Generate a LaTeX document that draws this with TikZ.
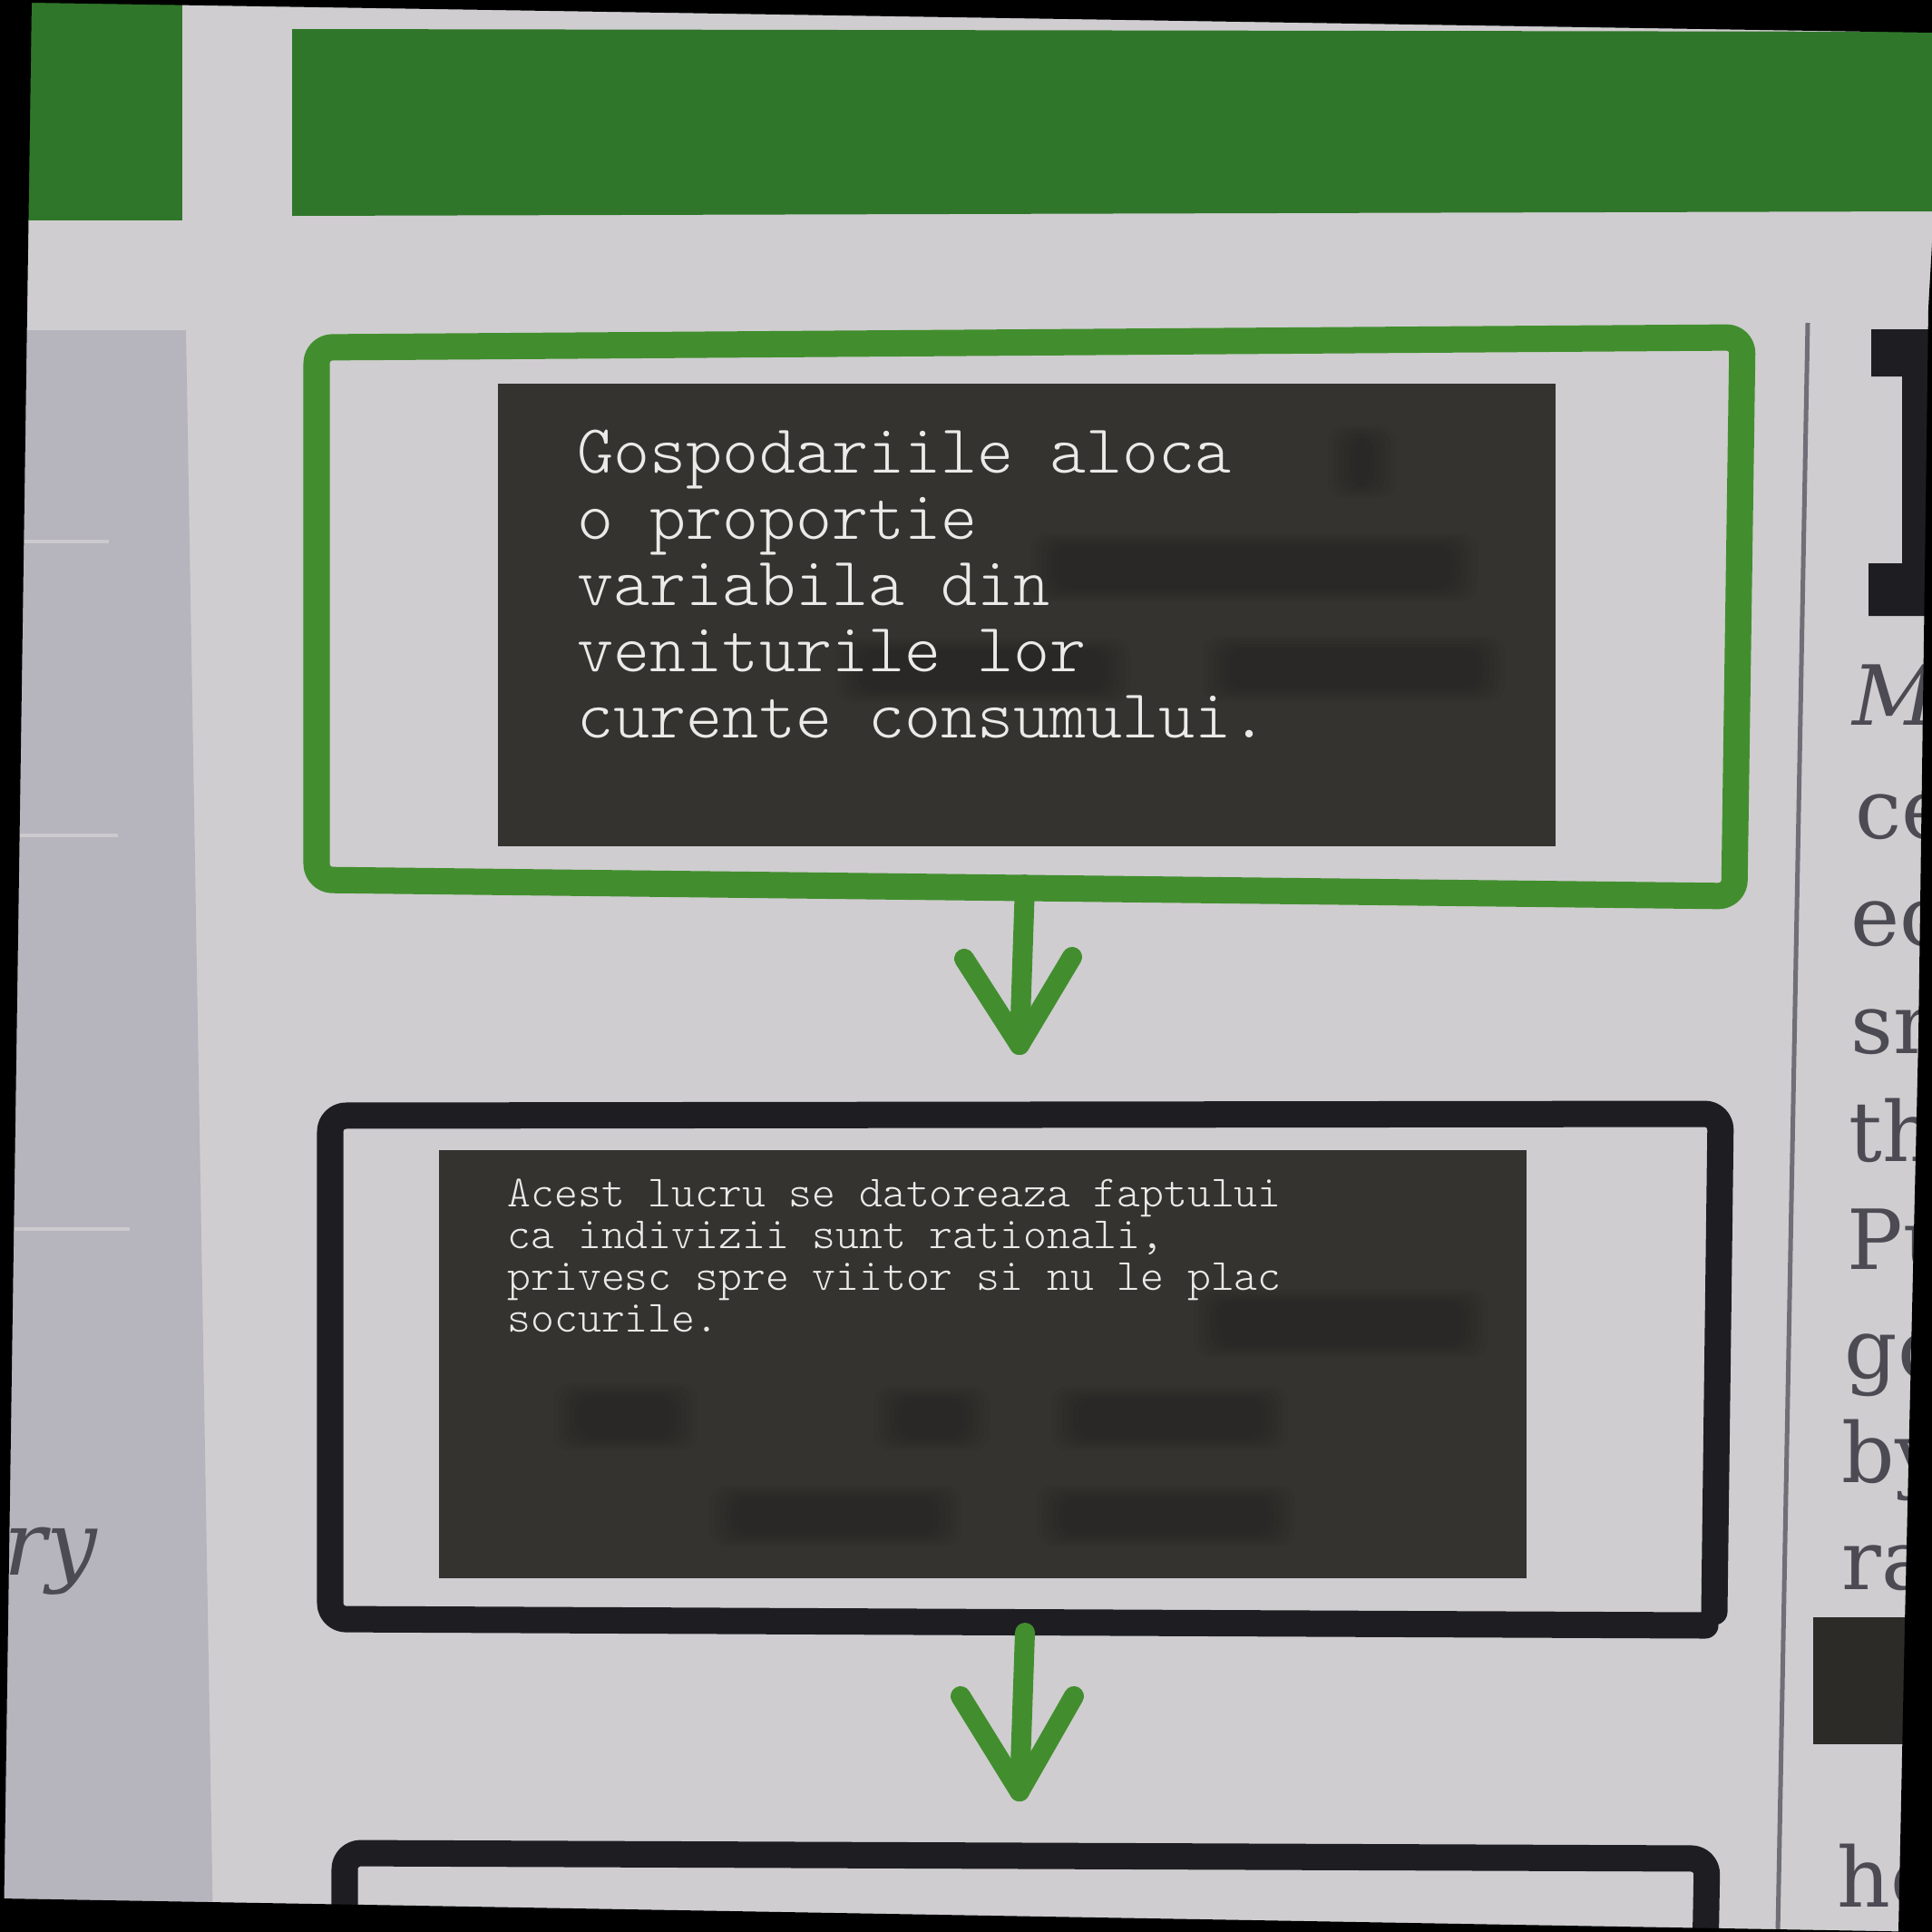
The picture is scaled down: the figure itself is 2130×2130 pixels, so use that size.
\documentclass[tikz,border=0pt]{standalone}
\usepackage{fontspec}
\newfontfamily\pageserif{DejaVu Serif}
\newfontfamily\lightmono{lmmonolt10-regular.otf}
\usetikzlibrary{calc}

\definecolor{paper}{RGB}{207,205,208}
\definecolor{panel}{RGB}{182,180,188}
\definecolor{panelrule}{RGB}{204,202,205}
\definecolor{bargreen}{RGB}{48,118,42}
\definecolor{markergreen}{RGB}{66,142,46}
\definecolor{markerblack}{RGB}{30,30,34}
\definecolor{overlay}{RGB}{53,51,47}
\definecolor{overlaytext}{RGB}{236,234,232}
\definecolor{printink}{RGB}{76,74,82}
\definecolor{rulegray}{RGB}{112,110,118}

\tikzset{
  greenframe/.style={draw=markergreen, line width=0.29cm, rounded corners=5pt, line join=round},
  blackframe/.style={draw=markerblack, line width=0.29cm, rounded corners=5pt, line join=round, line cap=round},
  greenarrow/.style={draw=markergreen, line width=0.22cm, line cap=round, line join=round},
  overlaybox/.style={fill=overlay},
  bigline/.style={anchor=base west, inner sep=0pt, text=overlaytext,
    font=\lightmono\fontsize{21.7pt}{20.8pt}\selectfont},
  smallline/.style={anchor=base west, inner sep=0pt, text=overlaytext,
    font=\lightmono\fontsize{14pt}{13.1pt}\selectfont},
  printline/.style={anchor=base west, inner sep=0pt, text=printink,
    font=\pageserif\fontsize{26pt}{31pt}\selectfont},
  frame/.style={fill=black}
}

% soft dark bar: several stacked translucent layers
\newcommand\ghostbar[4]{%
  \foreach \k in {0,6,12,18,24,30}{%
    \fill[black, opacity=0.022, rounded corners=5pt]
      (#1-14+\k,#2-9+0.5*\k) rectangle (#3+14-\k,#4+9-0.5*\k);}}

\begin{document}
\begin{tikzpicture}[x=0.01cm, y=-0.01cm]
\useasboundingbox (0,0) rectangle (2130,2130);

% paper
\fill[paper] (0,0) rectangle (2130,2130);

% grey side panel with its light rules
\fill[panel] (30,364) -- (205,364) -- (235,2130) -- (0,2130) -- cycle;
\draw[panelrule, line width=0.04cm] (20,597) -- (120,597);
\draw[panelrule, line width=0.04cm] (15,921) -- (130,921);
\draw[panelrule, line width=0.04cm] (10,1355) -- (143,1355);
\node[anchor=base west, inner sep=0pt, text=printink,
      font=\pageserif\itshape\fontsize{28pt}{33pt}\selectfont] (sidery) at (4,1736) {ry};

% green header bars
\fill[bargreen] (30,0) rectangle (201,243);
\fill[bargreen] (322,32) -- (2130,35) -- (2130,233) -- (322,238) -- cycle;

% column rule
\coordinate (ruletop) at (1993,356);
\coordinate (rulebot) at (1960,2130);
\draw[rulegray, line width=0.05cm] (ruletop) -- (rulebot);

% drop cap
\fill[markerblack] (2063,363) -- (2130,363) -- (2130,679) -- (2060,679) -- (2060,621)
  -- (2097,621) -- (2097,415) -- (2063,415) -- cycle;

% column text
\node[printline, font=\pageserif\itshape\fontsize{26pt}{31pt}\selectfont] (c1) at (2042,799) {M};
\node[printline] (c2) at (2045,924) {ce};
\node[printline] (c3) at (2040,1042) {ec};
\node[printline] (c4) at (2040,1161) {sm};
\node[printline] (c5) at (2038,1280) {th};
\node[printline] (c6) at (2036,1399) {Pu};
\node[printline] (c7) at (2033,1519) {go};
\node[printline] (c8) at (2030,1634) {by};
\node[printline] (c9) at (2030,1752) {ra};
\node[printline] (c10) at (2025,2102) {ho};

% marker frames
\draw[greenframe] (349,383) -- (1921,372) -- (1912,988) -- (349,970) -- cycle;
\draw[blackframe] (1890,1777) -- (1897,1228) -- (364,1230) -- (364,1785) -- (1880,1792);
\draw[blackframe] (380,2160) -- (380,2043) -- (1882,2049) -- (1880,2160);

% marker arrows
\coordinate (a1top) at (1130,975);
\coordinate (a1tip) at (1124,1152);
\coordinate (a1l) at (1063,1057);
\coordinate (a1r) at (1182,1055);
\draw[greenarrow] (a1top) -- (a1tip);
\draw[greenarrow] (a1l) -- (a1tip) -- (a1r);

\coordinate (a2top) at (1130,1800);
\coordinate (a2tip) at (1124,1975);
\coordinate (a2l) at (1059,1870);
\coordinate (a2r) at (1184,1870);
\draw[greenarrow] (a2top) -- (a2tip);
\draw[greenarrow] (a2l) -- (a2tip) -- (a2r);

% first overlay panel
\fill[overlaybox] (549,423) rectangle (1715,933);
\ghostbar{1478}{478}{1525}{540}
\ghostbar{1150}{596}{1615}{654}
\ghostbar{1340}{710}{1645}{764}
\ghostbar{935}{712}{1232}{766}
\node[bigline] (l1) at (636,521) {Gospodariile aloca};
\node[bigline] (l2) at (636,594) {o proportie};
\node[bigline] (l3) at (636,667) {variabila din};
\node[bigline] (l4) at (636,740) {veniturile lor};
\node[bigline] (l5) at (636,813) {curente consumului.};

% second overlay panel
\fill[overlaybox] (484,1268) rectangle (1683,1740);
\ghostbar{1330}{1430}{1626}{1488}
\ghostbar{624}{1534}{755}{1590}
\ghostbar{977}{1537}{1077}{1590}
\ghostbar{1173}{1537}{1406}{1590}
\ghostbar{796}{1646}{1046}{1696}
\ghostbar{1157}{1646}{1414}{1696}
\node[smallline] (m1) at (559,1330) {Acest lucru se datoreaza faptului};
\node[smallline] (m2) at (559,1376) {ca indivizii sunt rationali,};
\node[smallline] (m3) at (559,1422) {privesc spre viitor si nu le plac};
\node[smallline] (m4) at (559,1468) {socurile.};

% small overlay patch in the column
\fill[overlay!85!black] (1999,1783) rectangle (2105,1923);

% dark border of the photo
\fill[frame] (0,0) -- (2130,0) -- (2130,36) -- (34,3) -- cycle;
\fill[frame] (0,0) -- (35,0) -- (4,2130) -- (0,2130) -- cycle;
\fill[frame] (0,2093) -- (2130,2130) -- (0,2130) -- cycle;
\fill[frame] (2131,250) -- (2126,340) -- (2115,1144) -- (2100,1790) -- (2093,2130) -- (2131,2130) -- cycle;
\end{tikzpicture}
\end{document}
